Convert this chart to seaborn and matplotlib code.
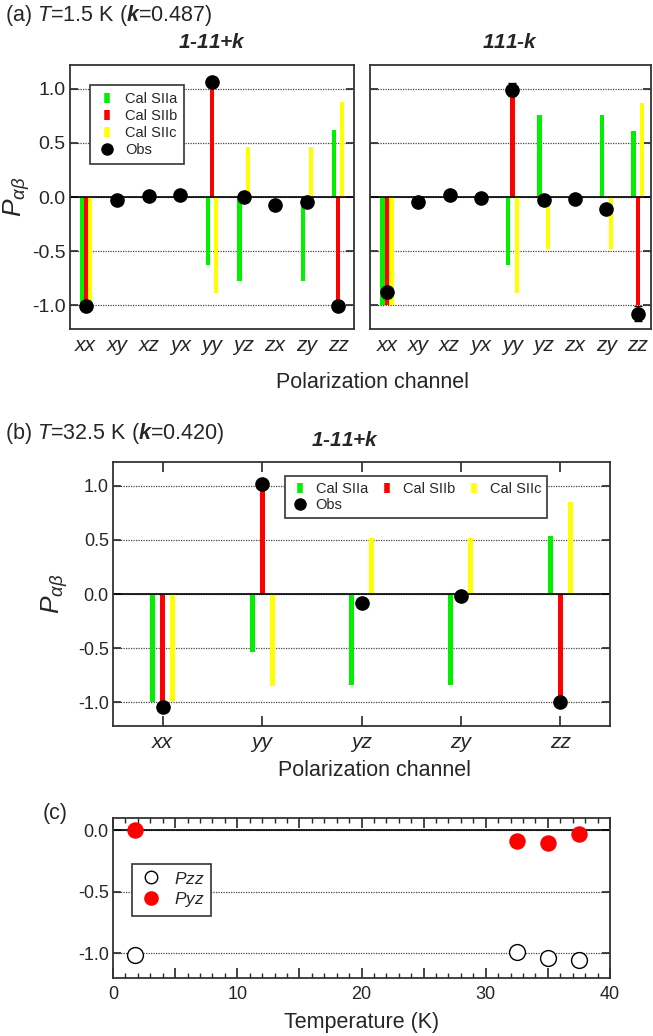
import numpy as np
import pandas as pd
import matplotlib
matplotlib.use("Agg")
import matplotlib.pyplot as plt
from matplotlib.lines import Line2D
from matplotlib.ticker import FixedLocator, MultipleLocator, FuncFormatter
import seaborn as sns

# ---------------- data ----------------
models = ["Cal SIIa", "Cal SIIb", "Cal SIIc"]
model_colors = ["#00f000", "#ff0000", "#ffff00"]

# (a) T = 1.5 K, scattering vector 1-11+k
chan_a = ["xx", "xy", "xz", "yx", "yy", "yz", "zx", "zy", "zz"]
a1_siia = [-1.0, np.nan, np.nan, np.nan, -0.63, -0.78, np.nan, -0.78, 0.62]
a1_siib = [-1.0, np.nan, np.nan, np.nan, 1.0, np.nan, np.nan, np.nan, -1.0]
a1_siic = [-1.0, np.nan, np.nan, np.nan, -0.89, 0.46, np.nan, 0.46, 0.88]
a1_obs = [-1.01, -0.03, 0.01, 0.02, 1.06, 0.00, -0.07, -0.05, -1.01]
a1_err = [0.02, 0.02, 0.02, 0.02, 0.02, 0.02, 0.02, 0.02, 0.02]

# (a) T = 1.5 K, scattering vector 111-k
a2_siia = [-1.0, np.nan, np.nan, np.nan, -0.63, 0.76, np.nan, 0.76, 0.61]
a2_siib = [-1.0, np.nan, np.nan, np.nan, 1.0, np.nan, np.nan, np.nan, -1.0]
a2_siic = [-1.0, np.nan, np.nan, np.nan, -0.89, -0.48, np.nan, -0.48, 0.87]
a2_obs = [-0.88, -0.05, 0.02, -0.01, 0.99, -0.03, -0.02, -0.11, -1.08]
a2_err = [0.05, 0.02, 0.04, 0.02, 0.06, 0.02, 0.02, 0.02, 0.07]

# (b) T = 32.5 K, scattering vector 1-11+k
chan_b = ["xx", "yy", "yz", "zy", "zz"]
b_siia = [-1.0, -0.54, -0.84, -0.84, 0.54]
b_siib = [-1.0, 1.0, np.nan, np.nan, -1.0]
b_siic = [-1.0, -0.85, 0.52, 0.52, 0.85]
b_obs = [-1.04, 1.02, -0.08, -0.02, -1.00]
b_err = [0.02, 0.02, 0.02, 0.02, 0.02]

# (c) temperature dependence
temp_c = [1.8, 32.5, 35.0, 37.5]
pzz = [-1.01, -0.99, -1.04, -1.05]
pzz_err = [0.01, 0.01, 0.01, 0.05]
pyz = [0.00, -0.09, -0.10, -0.03]
pyz_err = [0.01, 0.01, 0.01, 0.01]

# ---------------- style ----------------
sns.set_style("ticks")
plt.rcParams["font.family"] = ["Liberation Sans", "DejaVu Sans"]
plt.rcParams["mathtext.fontset"] = "custom"
plt.rcParams["mathtext.rm"] = "Liberation Sans"
plt.rcParams["mathtext.it"] = "Liberation Sans:italic"
plt.rcParams["mathtext.bf"] = "Liberation Sans:bold"
try:
    plt.rcParams["mathtext.bfit"] = "Liberation Sans:bold:italic"
except KeyError:
    pass
plt.rcParams["axes.linewidth"] = 1.3
plt.rcParams["axes.edgecolor"] = "#333333"

W, H = 653, 1036
fig = plt.figure(figsize=(W / 100, H / 100), dpi=100)


def px_axes(x0, y0, x1, y1):
    return fig.add_axes([x0 / W, 1 - y1 / H, (x1 - x0) / W, (y1 - y0) / H])


def long_frame(channels, a, b, c):
    rows = []
    for name, vals in zip(models, [a, b, c]):
        for ch, v in zip(channels, vals):
            rows.append({"channel": ch, "model": name, "value": v})
    return pd.DataFrame(rows)


def channel_panel(ax, channels, a, b, c, obs, err, width, gap, tick_fs,
                  ylabels=True, even_ticks=False):
    df = long_frame(channels, a, b, c)
    ax.yaxis.grid(True, linestyle=(0, (1, 1)), color="#444444", lw=0.9)
    ax.set_axisbelow(True)
    sns.barplot(data=df, x="channel", y="value", hue="model", order=channels,
                hue_order=models, palette=model_colors, width=width, gap=gap,
                dodge=True, saturation=1, errorbar=None, legend=False,
                linewidth=0, ax=ax)
    ax.axhline(0, color="black", lw=1.2, zorder=1.5)
    xs = np.arange(len(channels))
    ax.errorbar(xs, obs, yerr=err, fmt="o", color="black", ms=9.5,
                ecolor="black", elinewidth=1.2, capsize=3, zorder=5)
    ax.set_ylim(-1.22, 1.22)
    ax.set_yticks([-1.0, -0.5, 0.0, 0.5, 1.0])
    ax.set_xlabel("")
    ax.set_ylabel("")
    ax.tick_params(axis="y", direction="in", length=6, width=1.2,
                   left=True, right=True, labelsize=tick_fs, pad=3,
                   labelleft=ylabels)
    if even_ticks:
        ax.tick_params(axis="x", which="major", length=0, labelsize=15,
                       pad=5)
        ax.xaxis.set_minor_locator(FixedLocator(xs[::2]))
        ax.tick_params(axis="x", which="minor", direction="in", length=7,
                       width=1.2, top=True, bottom=True)
    else:
        ax.tick_params(axis="x", which="major", direction="in", length=7,
                       width=1.2, top=True, bottom=True, labelsize=15, pad=5)
    for lab in ax.get_xticklabels():
        lab.set_fontstyle("italic")
    if ylabels:
        ax.yaxis.set_major_formatter(FuncFormatter(lambda v, p: f"{v:.1f}"))
    for s in ax.spines.values():
        s.set_visible(True)


def model_handles():
    hs = [Line2D([], [], marker="|", ls="none", color=c, mec=c, ms=7, mew=4)
          for c in model_colors]
    hs.append(Line2D([], [], marker="o", ls="none", color="black", ms=8))
    return hs


legend_style = dict(frameon=True, fancybox=False, edgecolor="#333333",
                    framealpha=1, borderaxespad=0)

# ---------------- (a) ----------------
ax1 = px_axes(70, 65, 354, 329)
channel_panel(ax1, chan_a, a1_siia, a1_siib, a1_siic, a1_obs, a1_err,
              width=0.39, gap=0.0, tick_fs=14, even_ticks=True)
ax1.set_xlim(-0.5, 8.5)
ax1.set_ylabel(r"$P_{\alpha\beta}$", fontsize=19, labelpad=0)
leg = ax1.legend(model_handles(), models + ["Obs"], loc="upper left",
                 bbox_to_anchor=(0.07, 0.924), fontsize=10.5,
                 handlelength=1.3, handletextpad=0.6, labelspacing=0.2,
                 borderpad=0.5, **legend_style)
leg.get_frame().set_linewidth(1.2)
ax1.set_title("1-11+$\\mathbfit{k}$", fontsize=15, fontweight="bold",
              fontstyle="italic", pad=12)

ax2 = px_axes(370, 65, 651, 329)
channel_panel(ax2, chan_a, a2_siia, a2_siib, a2_siic, a2_obs, a2_err,
              width=0.42, gap=0.0, tick_fs=14, ylabels=False, even_ticks=True)
ax2.set_xlim(-0.54, 8.42)
ax2.set_title("111-$\\mathbfit{k}$", fontsize=15, fontweight="bold",
              fontstyle="italic", pad=12)

fig.text(5 / W, 1 - 16 / H, r"(a) $T$=1.5 K ($\mathbfit{k}$=0.487)",
         fontsize=15.5, ha="left", va="center")
fig.text(373 / W, 1 - 382 / H, "Polarization channel", fontsize=15.5,
         ha="center", va="center")

# ---------------- (b) ----------------
ax3 = px_axes(113, 462, 610, 726)
channel_panel(ax3, chan_b, b_siia, b_siib, b_siic, b_obs, b_err,
              width=0.3, gap=0.5, tick_fs=13)
ax3.set_xlim(-0.5, 4.5)
ax3.set_ylabel(r"$P_{\alpha\beta}$", fontsize=19, labelpad=6)
hb = model_handles()
leg = ax3.legend([hb[0], hb[3], hb[1], hb[2]],
                 [models[0], "Obs", models[1], models[2]], ncol=3,
                 loc="upper left", bbox_to_anchor=(0.346, 0.947),
                 fontsize=10.5, handlelength=1.2, handletextpad=0.5,
                 labelspacing=0.15, columnspacing=0.7, borderpad=0.4,
                 **legend_style)
leg.get_frame().set_linewidth(1.2)
fig.text(5 / W, 1 - 433 / H, r"(b) $T$=32.5 K ($\mathbfit{k}$=0.420)",
         fontsize=15.5, ha="left", va="center")
fig.text(345 / W, 1 - 440 / H, "1-11+$\\mathbfit{k}$", fontsize=15,
         fontweight="bold", fontstyle="italic", ha="center", va="center")
fig.text(374 / W, 1 - 770 / H, "Polarization channel", fontsize=15.5,
         ha="center", va="center")

# ---------------- (c) ----------------
ax4 = px_axes(113, 818, 610, 978)
df_c = pd.DataFrame({"T": temp_c * 2,
                     "P": pzz + pyz,
                     "err": pzz_err + pyz_err,
                     "series": ["Pzz"] * len(temp_c) + ["Pyz"] * len(temp_c)})
ax4.yaxis.grid(True, linestyle=(0, (1, 1)), color="#444444", lw=0.9)
ax4.set_axisbelow(True)
ax4.axhline(0, color="black", lw=1.2, zorder=1.5)
ax4.errorbar(temp_c, pzz, yerr=pzz_err, fmt="none", ecolor="black",
             elinewidth=1.2, capsize=3, zorder=3)
sns.scatterplot(data=df_c[df_c.series == "Pzz"], x="T", y="P", marker="o",
                s=130, facecolor="white", edgecolor="black", linewidth=1.0,
                zorder=4, ax=ax4, legend=False)
sns.scatterplot(data=df_c[df_c.series == "Pyz"], x="T", y="P", marker="o",
                s=140, color="#ff0000", edgecolor="#ff0000", linewidth=0,
                zorder=4, ax=ax4, legend=False)
ax4.set_xlim(0, 40)
ax4.set_ylim(-1.2, 0.1)
ax4.set_yticks([-1.0, -0.5, 0.0])
ax4.yaxis.set_major_formatter(FuncFormatter(lambda v, p: f"{v:.1f}"))
ax4.xaxis.set_major_locator(MultipleLocator(5))
ax4.xaxis.set_minor_locator(MultipleLocator(1))
ax4.xaxis.set_major_formatter(
    FuncFormatter(lambda v, p: f"{v:.0f}" if abs(v % 10) < 1e-6 else ""))
ax4.tick_params(axis="x", which="major", direction="in", length=7, width=1.2,
                top=True, bottom=True, labelsize=13, pad=6)
ax4.tick_params(axis="x", which="minor", direction="in", length=3.5,
                width=1.0, top=True, bottom=True)
ax4.tick_params(axis="y", direction="in", length=6, width=1.2, left=True,
                right=True, labelsize=13, pad=3)
ax4.set_xlabel("Temperature (K)", fontsize=15.5, labelpad=6)
ax4.set_ylabel("")
hc = [Line2D([], [], marker="o", ls="none", mfc="white", mec="black", ms=9,
             mew=1.0),
      Line2D([], [], marker="o", ls="none", mfc="#ff0000", mec="#ff0000",
             ms=9.5)]
leg = ax4.legend(hc, ["$P$$\\it{zz}$", "$P$$\\it{yz}$"], loc="upper left",
                 bbox_to_anchor=(0.038, 0.715), fontsize=12.5,
                 handlelength=1.4, handletextpad=0.6, labelspacing=0.2,
                 borderpad=0.4, **legend_style)
leg.get_frame().set_linewidth(1.2)
fig.text(43 / W, 1 - 813 / H, "(c)", fontsize=15.5, ha="left", va="center")

fig.savefig("out.png", dpi=100)
